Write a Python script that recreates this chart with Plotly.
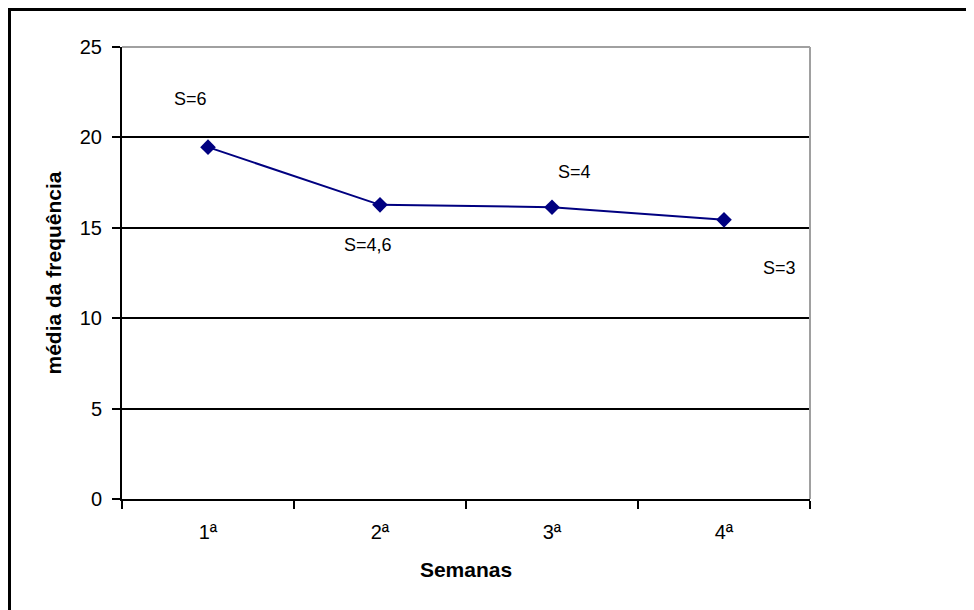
import plotly.graph_objects as go

semanas = ["1ª", "2ª", "3ª", "4ª"]
media = [19.46, 16.27, 16.14, 15.44]
desvio_labels = ["S=6", "S=4,6", "S=4", "S=3"]
label_x = [-0.1, 0.93, 2.13, 3.32]
label_y = [22.1, 14.05, 18.1, 12.8]
y_ticks = [0, 5, 10, 15, 20, 25]

FONT = "Liberation Sans, Arial, sans-serif"
OFF = 8  # page body margin
W, H = 974 - OFF, 610 - OFF
ML, MT = 122 - OFF, 47 - OFF
MR = W - (810 - OFF)
MB = H - (499 - OFF)
pw, ph = W - ML - MR, H - MT - MB

def px_x(p):
    return (p - OFF - ML) / pw

def px_y(p):
    return (H - MB - (p - OFF)) / ph

fig = go.Figure()
fig.add_trace(go.Scatter(
    x=semanas, y=media, mode="lines+markers",
    line=dict(color="#000080", width=2),
    marker=dict(symbol="diamond", size=12, color="#000080"),
    showlegend=False, hoverinfo="skip",
))

for t, xx, yy in zip(desvio_labels, label_x, label_y):
    fig.add_annotation(x=xx, y=yy, xref="x", yref="y", text=t, showarrow=False,
                       font=dict(family=FONT, size=18, color="black"))

# plot-area border (grey top & right)
fig.add_shape(type="line", xref="paper", yref="paper", x0=0, x1=1, y0=1, y1=1,
              line=dict(color="#a0a0a0", width=2), layer="above")
fig.add_shape(type="line", xref="paper", yref="paper", x0=1, x1=1, y0=0, y1=1,
              line=dict(color="#a0a0a0", width=2), layer="above")
# outer chart border (top & left visible)
fig.add_shape(type="line", xref="paper", yref="paper", x0=px_x(9.5), x1=px_x(990),
              y0=px_y(9.5), y1=px_y(9.5), line=dict(color="black", width=3))
fig.add_shape(type="line", xref="paper", yref="paper", x0=px_x(9.5), x1=px_x(9.5),
              y0=px_y(8), y1=px_y(630), line=dict(color="black", width=3))

fig.update_layout(
    width=W, height=H,
    margin=dict(l=ML, r=MR, t=MT, b=MB, autoexpand=False),
    paper_bgcolor="white", plot_bgcolor="white",
    font=dict(family=FONT, color="black"),
    xaxis=dict(
        type="category", range=[-0.5, 3.5], tickson="boundaries",
        ticks="outside", ticklen=8, tickwidth=2, tickcolor="black",
        showline=True, linecolor="black", linewidth=2, showgrid=False,
        ticklabelstandoff=14,
        tickfont=dict(family=FONT, size=20, color="black"),
        title=dict(text="<b>Semanas</b>", font=dict(family=FONT, size=21, color="black"), standoff=20),
        zeroline=False,
    ),
    yaxis=dict(
        range=[0, 25], tickvals=y_ticks, ticks="outside", ticklen=8, tickwidth=2,
        tickcolor="black", showline=True, linecolor="black", linewidth=2,
        showgrid=True, gridcolor="black", gridwidth=1.5, zeroline=False,
        ticklabelstandoff=6,
        tickfont=dict(family=FONT, size=20, color="black"),
        title=dict(text="<b>média da frequência</b>", font=dict(family=FONT, size=21, color="black"), standoff=12),
    ),
)

fig.write_html("out.html")
